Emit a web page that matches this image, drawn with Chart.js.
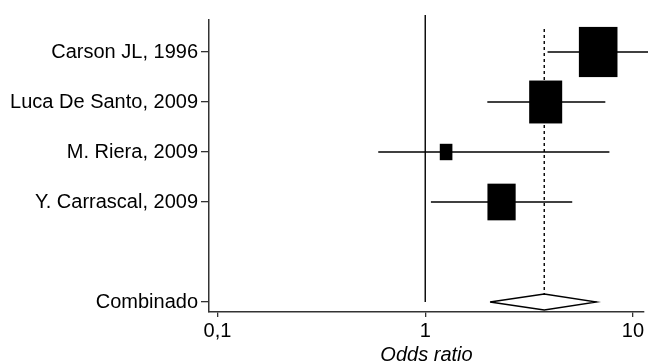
<!DOCTYPE html>
<html>
<head>
<meta charset="utf-8">
<script src="https://cdn.jsdelivr.net/npm/chart.js@4"></script>
<style>
  html, body { margin: 0; padding: 0; background: #fff; }
  #wrap { width: 648px; height: 363px; }
</style>
</head>
<body>
<div id="wrap"><canvas id="forest"></canvas></div>
<script>
// study data (odds ratios)
const studies = ['Carson JL, 1996', 'Luca De Santo, 2009', 'M. Riera, 2009', 'Y. Carrascal, 2009'];
const rows = [1, 2, 3, 4];
const oddsRatio = [6.8, 3.8, 1.26, 2.33];
const ciLow = [3.88, 1.99, 0.594, 1.065];
const ciHigh = [13, 7.36, 7.7, 5.1];
const weights = [42.1, 30.8, 4.5, 22.5];

// pooled estimate
const pooledLabel = 'Combinado';
const pooledRow = 6;
const pooledOR = 3.74;
const pooledLow = 2.05;
const pooledHigh = 6.69;

const xTicks = [0.1, 1, 10];
const xTickLabels = ['0,1', '1', '10'];

Chart.defaults.font.family = "'Liberation Sans', Arial, sans-serif";
Chart.defaults.font.size = 20;
Chart.defaults.color = '#000';

const yTicks = rows.concat([pooledRow]);
const yLabels = studies.concat([pooledLabel]);

const datasets = [];
// confidence interval lines
rows.forEach((r, i) => {
  datasets.push({
    data: [{ x: ciLow[i], y: r }, { x: ciHigh[i], y: r }],
    borderColor: '#000', borderWidth: 1.3
  });
});
// line of no effect
datasets.push({
  data: [{ x: 1, y: 0.26 }, { x: 1, y: pooledRow }],
  borderColor: '#000', borderWidth: 1.4
});
// pooled estimate dotted line
datasets.push({
  data: [{ x: pooledOR, y: 0.54 }, { x: pooledOR, y: pooledRow - 0.16 }],
  borderColor: '#000', borderWidth: 1.4, borderDash: [3, 3]
});
// diamond
datasets.push({
  data: [
    { x: pooledLow, y: pooledRow }, { x: pooledOR, y: pooledRow - 0.16 },
    { x: pooledHigh, y: pooledRow }, { x: pooledOR, y: pooledRow + 0.16 },
    { x: pooledLow, y: pooledRow }
  ],
  borderColor: '#000', borderWidth: 1.3, backgroundColor: '#fff', fill: true
});
datasets.forEach(d => {
  d.showLine = true; d.pointRadius = 0; d.clip = false; d.tension = 0;
});

// weight boxes drawn through the scales
const boxPlugin = {
  id: 'boxes',
  afterDatasetsDraw(chart) {
    const { ctx, scales: { x, y } } = chart;
    ctx.save();
    ctx.fillStyle = '#000';
    rows.forEach((r, i) => {
      const area = 46 * weights[i];
      const w = Math.sqrt(area / 1.3);
      const h = w * 1.3;
      const cx = x.getPixelForValue(oddsRatio[i]);
      const cy = y.getPixelForValue(r);
      ctx.fillRect(cx - w / 2, cy - h / 2, w, h);
    });
    ctx.restore();
  }
};

new Chart(document.getElementById('forest'), {
  type: 'scatter',
  data: { datasets },
  plugins: [boxPlugin],
  options: {
    responsive: true,
    maintainAspectRatio: false,
    animation: false,
    layout: { padding: { top: 20, right: 4, left: 0, bottom: 0 } },
    plugins: { legend: { display: false }, tooltip: { enabled: false } },
    scales: {
      x: {
        type: 'logarithmic',
        min: 0.091, max: 11.3,
        afterBuildTicks: s => { s.ticks = xTicks.map(v => ({ value: v })); },
        afterFit: s => { s.height = 51; },
        ticks: {
          autoSkip: false, maxRotation: 0, padding: 2,
          callback: (v) => { const k = xTicks.indexOf(v); return k >= 0 ? xTickLabels[k] : ''; }
        },
        grid: { drawOnChartArea: false, tickLength: 5, color: '#333', lineWidth: 1.3 },
        border: { color: '#333', width: 1.5 },
        title: { display: true, text: 'Odds ratio', font: { style: 'italic', size: 20, lineHeight: 0.8 }, padding: { top: 0, bottom: 0 } }
      },
      y: {
        type: 'linear',
        reverse: true,
        min: 0.36, max: 6.2,
        afterBuildTicks: s => { s.ticks = yTicks.map(v => ({ value: v })); },
        afterFit: s => { s.width = 209; },
        ticks: {
          autoSkip: false, padding: 3,
          callback: (v) => { const k = yTicks.indexOf(v); return k >= 0 ? yLabels[k] : ''; }
        },
        grid: { drawOnChartArea: false, tickLength: 8, color: '#333', lineWidth: 1.3 },
        border: { color: '#333', width: 1.5 }
      }
    }
  }
});
</script>
</body>
</html>
